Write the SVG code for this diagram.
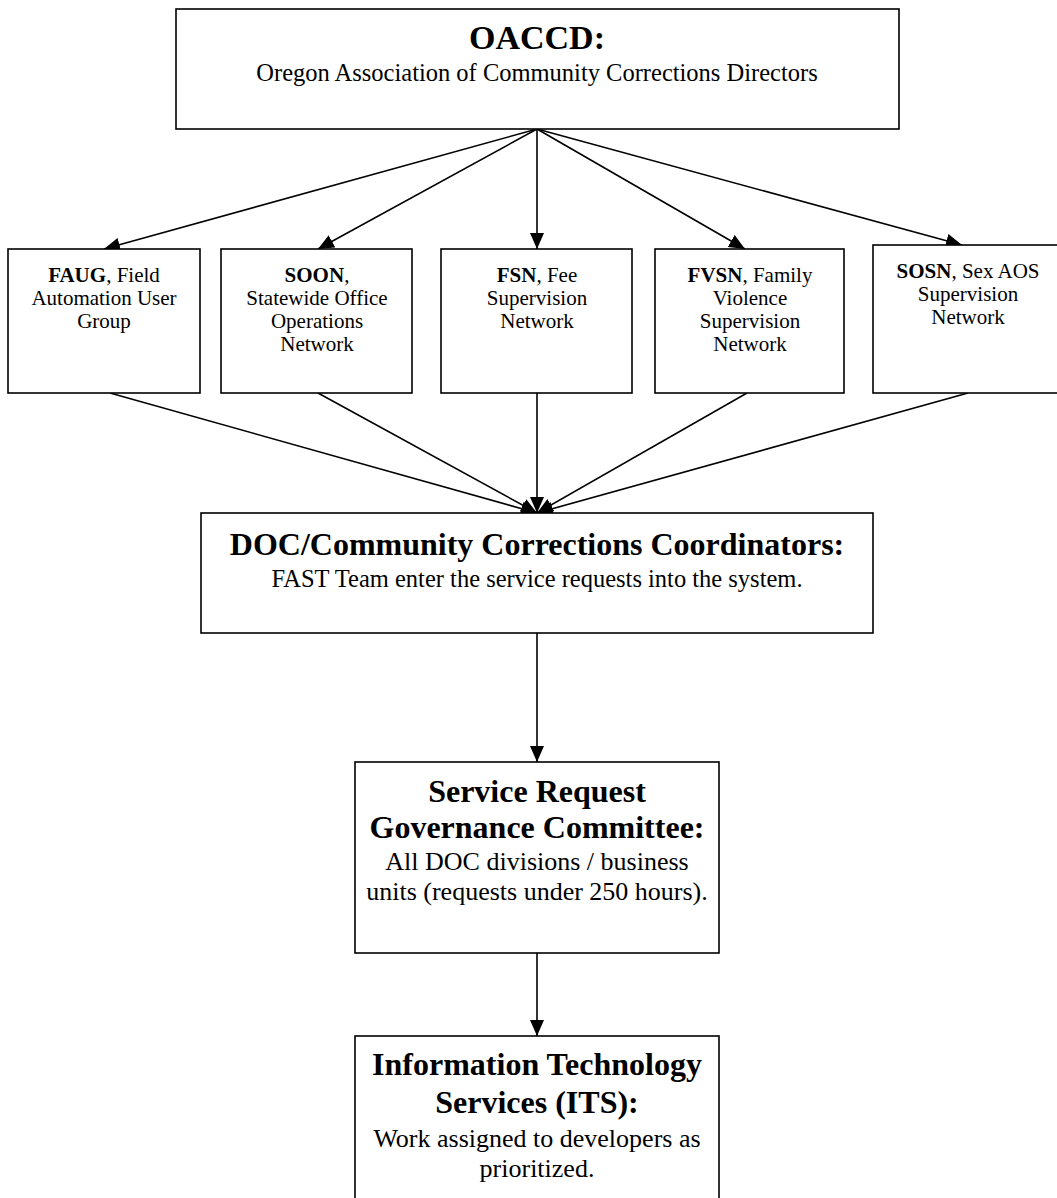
<svg xmlns="http://www.w3.org/2000/svg" width="1057" height="1198" viewBox="0 0 1057 1198">
<style>
.box{fill:#fff;stroke:#000;stroke-width:1.6}
text{font-family:"Liberation Serif","DejaVu Serif",serif;fill:#000;text-anchor:middle}
.t{font-weight:bold;font-size:32px}
.tb{font-weight:bold;font-size:34px}
.s{font-size:24.5px}
.l{font-size:26px}
.n{font-size:21px}
.b{font-weight:bold}
.c{stroke:#000;stroke-width:1.6;fill:none;marker-end:url(#ah)}
</style>
<defs>
<marker id="ah" markerWidth="16" markerHeight="14" refX="16" refY="7" orient="auto" markerUnits="userSpaceOnUse">
<path d="M0,0 L16,7 L0,14 Z" fill="#000"/>
</marker>
</defs>
<rect width="1057" height="1198" fill="#fff"/>
<g id="connectors">
<line class="c" x1="537" y1="129" x2="104" y2="249"/>
<line class="c" x1="537" y1="129" x2="318" y2="249"/>
<line class="c" x1="537" y1="129" x2="537" y2="249"/>
<line class="c" x1="537" y1="129" x2="745" y2="249"/>
<line class="c" x1="537" y1="129" x2="962" y2="245"/>
<line class="c" x1="110" y1="393" x2="537" y2="513"/>
<line class="c" x1="318" y1="393" x2="537" y2="513"/>
<line class="c" x1="537" y1="393" x2="537" y2="513"/>
<line class="c" x1="747" y1="393" x2="537" y2="513"/>
<line class="c" x1="968" y1="393" x2="537" y2="513"/>
<line class="c" x1="537" y1="633" x2="537" y2="762"/>
<line class="c" x1="537" y1="953" x2="537" y2="1036"/>
</g>
<g id="oaccd">
<rect class="box" x="176" y="9" width="723" height="120"/>
<text class="tb" x="537" y="49">OACCD:</text>
<text class="s" x="537" y="81">Oregon Association of Community Corrections Directors</text>
</g>
<g id="faug">
<rect class="box" x="8" y="249" width="192" height="144"/>
<text class="n" x="104" y="282"><tspan class="b">FAUG</tspan>, Field</text>
<text class="n" x="104" y="305">Automation User</text>
<text class="n" x="104" y="328">Group</text>
</g>
<g id="soon">
<rect class="box" x="221" y="249" width="191" height="144"/>
<text class="n" x="317" y="282"><tspan class="b">SOON</tspan>,</text>
<text class="n" x="317" y="305">Statewide Office</text>
<text class="n" x="317" y="328">Operations</text>
<text class="n" x="317" y="351">Network</text>
</g>
<g id="fsn">
<rect class="box" x="441" y="249" width="191" height="144"/>
<text class="n" x="537" y="282"><tspan class="b">FSN</tspan>, Fee</text>
<text class="n" x="537" y="305">Supervision</text>
<text class="n" x="537" y="328">Network</text>
</g>
<g id="fvsn">
<rect class="box" x="655" y="249" width="189" height="144"/>
<text class="n" x="750" y="282"><tspan class="b">FVSN</tspan>, Family</text>
<text class="n" x="750" y="305">Violence</text>
<text class="n" x="750" y="328">Supervision</text>
<text class="n" x="750" y="351">Network</text>
</g>
<g id="sosn">
<rect class="box" x="873" y="245" width="190" height="148"/>
<text class="n" x="968" y="278"><tspan class="b">SOSN</tspan>, Sex AOS</text>
<text class="n" x="968" y="301">Supervision</text>
<text class="n" x="968" y="324">Network</text>
</g>
<g id="doc">
<rect class="box" x="201" y="513" width="672" height="120"/>
<text class="t" x="537" y="555">DOC/Community Corrections Coordinators:</text>
<text class="s" x="537" y="587">FAST Team enter the service requests into the system.</text>
</g>
<g id="srgc">
<rect class="box" x="355" y="762" width="364" height="191"/>
<text class="t" x="537" y="802">Service Request</text>
<text class="t" x="537" y="838">Governance Committee:</text>
<text class="l" x="537" y="870">All DOC divisions / business</text>
<text class="l" x="537" y="900">units (requests under 250 hours).</text>
</g>
<g id="its">
<rect class="box" x="355" y="1036" width="364" height="170"/>
<text class="t" x="537" y="1075">Information Technology</text>
<text class="t" x="537" y="1113">Services (ITS):</text>
<text class="l" x="537" y="1147">Work assigned to developers as</text>
<text class="l" x="537" y="1177">prioritized.</text>
</g>
</svg>
